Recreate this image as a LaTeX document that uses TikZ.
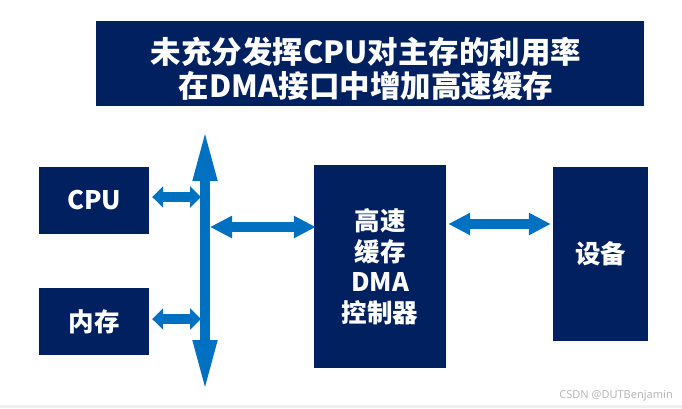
\documentclass[tikz,border=0pt]{standalone}
\usepackage{fontspec}
\setmainfont{Noto Sans CJK SC}
\newfontfamily\wmfont{Noto Sans}
\usetikzlibrary{arrows.meta}
\definecolor{navy}{HTML}{002060}
\definecolor{arrblue}{HTML}{0070C0}
\tikzset{
  box/.style={fill=navy, draw=none, text=white, font=\bfseries\fontsize{25.5}{30.5}\selectfont, align=center, inner sep=0pt},
  busarr/.style={arrblue, line width=10pt, {Triangle[length=52pt,width=22pt]}-{Triangle[length=52pt,width=22pt]}},
  shortarr/.style={arrblue, line width=10pt, {Triangle[length=11pt,width=21pt]}-{Triangle[length=11pt,width=21pt]}},
  longarr/.style={arrblue, line width=10pt, {Triangle[length=22pt,width=21pt]}-{Triangle[length=22pt,width=21pt]}}
}
\begin{document}
\begin{tikzpicture}[x=1pt,y=-1pt]
\useasboundingbox (0,0) rectangle (682,408);
\fill[white] (0,0) rectangle (682,408);
\fill[black!6] (0,405) rectangle (682,408);
% title
\node[box, minimum width=548pt, minimum height=85pt] (title) at (370,63.5) {};
\node[text=white, font=\bfseries\fontsize{30.5}{34}\selectfont, align=center, inner sep=0pt] (ttext) at (366,69) {未充分发挥CPU对主存的利用率\\在DMA接口中增加高速缓存};
% boxes
\node[box, minimum width=110pt, minimum height=67pt] (cpu) at (94,200.5) {CPU};
\node[box, minimum width=110pt, minimum height=67pt] (mem) at (94,321.5) {内存};
\node[box, minimum width=132pt, minimum height=203pt] (dma) at (380,266.5) {高速\\缓存\\DMA\\控制器};
\node[box, minimum width=95pt, minimum height=174pt] (dev) at (600.5,254) {设备};
% bus
\coordinate (busT) at (205,129);
\coordinate (busB) at (205,392);
\coordinate (busL) at (201,0);
\coordinate (busR) at (210,0);
\draw[busarr] (busT) -- (busB);
% arrows
\draw[shortarr] ([xshift=3pt]cpu.east |- 0,197) -- (busL |- 0,197);
\draw[shortarr] ([xshift=3pt]mem.east |- 0,319) -- (busL |- 0,319);
\draw[longarr] (busR |- 0,227) -- ([xshift=2pt]dma.west |- 0,227);
\draw[longarr] ([xshift=2pt]dma.east |- 0,224) -- ([xshift=-2pt]dev.west |- 0,224);
% watermark
\node[text=black!28, font=\wmfont\fontsize{11}{13}\selectfont, anchor=east, inner sep=0pt] (wm) at (673,396) {CSDN @DUTBenjamin};
\end{tikzpicture}
\end{document}
